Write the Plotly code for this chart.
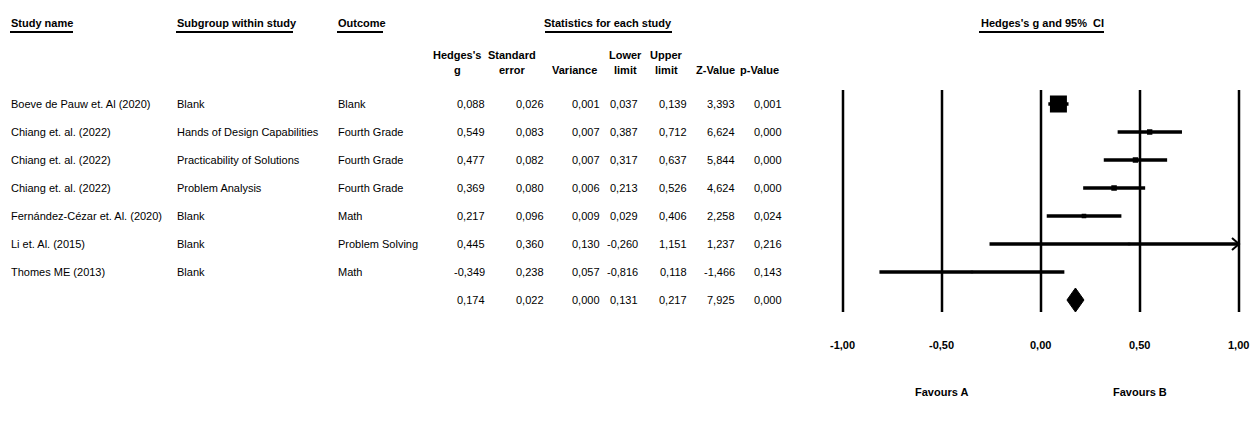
import math
import plotly.graph_objects as go

# ---------------- data ----------------
studies = ["Boeve de Pauw et. Al (2020)", "Chiang et. al. (2022)", "Chiang et. al. (2022)",
           "Chiang et. al. (2022)", "Fernández-Cézar et. Al. (2020)", "Li et. Al. (2015)",
           "Thomes ME (2013)"]
subgroups = ["Blank", "Hands of Design Capabilities", "Practicability of Solutions",
             "Problem Analysis", "Blank", "Blank", "Blank"]
outcomes = ["Blank", "Fourth Grade", "Fourth Grade", "Fourth Grade", "Math",
            "Problem Solving", "Math"]
hedges_g = [0.088, 0.549, 0.477, 0.369, 0.217, 0.445, -0.349]
std_err = [0.026, 0.083, 0.082, 0.080, 0.096, 0.360, 0.238]
variance = [0.001, 0.007, 0.007, 0.006, 0.009, 0.130, 0.057]
lower = [0.037, 0.387, 0.317, 0.213, 0.029, -0.260, -0.816]
upper = [0.139, 0.712, 0.637, 0.526, 0.406, 1.151, 0.118]
z_val = [3.393, 6.624, 5.844, 4.624, 2.258, 1.237, -1.466]
p_val = [0.001, 0.000, 0.000, 0.000, 0.024, 0.216, 0.143]

summary = {"g": 0.174, "se": 0.022, "var": 0.000, "lower": 0.131, "upper": 0.217,
           "z": 7.925, "p": 0.000}

tick_vals = [-1.0, -0.5, 0.0, 0.5, 1.0]
tick_text = ["-1,00", "-0,50", "0,00", "0,50", "1,00"]
favours = [("Favours A", -0.5), ("Favours B", 0.5)]

# ---------------- layout constants ----------------
W, H = 1258, 426
ROW0_PX, ROW_STEP = 104, 28          # pixel y of first row, row spacing
PX_PER_UNIT = 198.0                  # forest plot scale
X0_PX = 1041.0                       # pixel of g = 0
XMIN, XMAX = tick_vals[0], tick_vals[-1]

def ypx(px):
    return (px - ROW0_PX) / ROW_STEP

def xp(px):
    return px / W

FONT = "Liberation Sans, Arial, sans-serif"
FS = 11
BLACK = "#000000"

x_left_px = X0_PX - 1.08 * PX_PER_UNIT
x_right_px = X0_PX + 1.08 * PX_PER_UNIT

fig = go.Figure()

# vertical reference lines
shapes = []
for tv in tick_vals:
    shapes.append(dict(type="line", xref="x", yref="y", x0=tv, x1=tv,
                       y0=ypx(90), y1=ypx(312), line=dict(color=BLACK, width=2.5)))

# CI lines
ci_x, ci_y = [], []
n = len(studies)
for i in range(n):
    ci_x += [max(lower[i], XMIN), min(upper[i], XMAX), None]
    ci_y += [i, i, None]
fig.add_trace(go.Scatter(x=ci_x, y=ci_y, mode="lines",
                         line=dict(color=BLACK, width=3.5), hoverinfo="skip",
                         showlegend=False))

# arrows for clipped CIs
ar_x, ar_y = [], []
for i in range(n):
    if upper[i] > XMAX:
        d = 7 / PX_PER_UNIT
        dy = 6 / ROW_STEP
        ar_x += [XMAX - d, XMAX, XMAX - d, None]
        ar_y += [i - dy, i, i + dy, None]
if ar_x:
    fig.add_trace(go.Scatter(x=ar_x, y=ar_y, mode="lines",
                             line=dict(color=BLACK, width=2), hoverinfo="skip",
                             showlegend=False))

# point estimates, sized by inverse-variance weight
weights = [1 / (s * s) for s in std_err]
wmax = max(weights)
sizes = [max(2.5, 17 * math.sqrt(w / wmax)) for w in weights]
fig.add_trace(go.Scatter(x=hedges_g, y=list(range(n)), mode="markers",
                         marker=dict(symbol="square", size=sizes, color=BLACK,
                                     opacity=1, line=dict(width=0)),
                         opacity=1, showlegend=False))

# summary diamond
sr = n
dh = 12 / ROW_STEP
fig.add_trace(go.Scatter(x=[summary["lower"], summary["g"], summary["upper"], summary["g"], summary["lower"]],
                         y=[sr, sr - dh, sr, sr + dh, sr], mode="lines", fill="toself",
                         fillcolor=BLACK, line=dict(color=BLACK, width=1),
                         showlegend=False))

ann = []

def text(x_px, y_val, s, anchor="left", bold=False, size=FS):
    ann.append(dict(xref="paper", yref="y", x=xp(x_px), y=y_val,
                    text=("<b>%s</b>" % s) if bold else s, showarrow=False,
                    xanchor=anchor, yanchor="middle", borderpad=0,
                    font=dict(family=FONT, size=size, color=BLACK)))

# headers
hy = ypx(23)
text(10, hy, "Study name", bold=True)
text(176, hy, "Subgroup within study", bold=True)
text(337, hy, "Outcome", bold=True)
text(608, hy, "Statistics for each study", "center", bold=True)
text(1042, hy, "Hedges's g and 95%  CI", "center", bold=True)

underlines = [(10, 73), (176, 293), (337, 383), (545, 672), (979, 1104)]
for a, b in underlines:
    shapes.append(dict(type="line", xref="paper", yref="paper",
                       x0=xp(a), x1=xp(b), y0=1 - 32 / H, y1=1 - 32 / H,
                       line=dict(color=BLACK, width=2)))

# sub headers
num_right = [486, 545, 601, 639, 688, 736, 783]
sub_h = [("Hedges's", "g", 457), ("Standard", "error", 512), (None, "Variance", 574),
         ("Lower", "limit", 625), ("Upper", "limit", 666), (None, "Z-Value", 715),
         (None, "p-Value", 759)]
for top, bot, cx in sub_h:
    if top:
        text(cx, ypx(55), top, "center", bold=True)
    text(cx, ypx(70), bot, "center", bold=True)

def fmt(v):
    return ("%.3f" % v).replace(".", ",")

for i in range(n):
    text(10, i, studies[i])
    text(176, i, subgroups[i])
    text(337, i, outcomes[i])
    vals = [hedges_g[i], std_err[i], variance[i], lower[i], upper[i], z_val[i], p_val[i]]
    for v, xr in zip(vals, num_right):
        text(xr, i, fmt(v), "right")

svals = [summary["g"], summary["se"], summary["var"], summary["lower"], summary["upper"],
         summary["z"], summary["p"]]
for v, xr in zip(svals, num_right):
    text(xr, n, fmt(v), "right")

# tick labels
for tv, tt in zip(tick_vals, tick_text):
    ann.append(dict(xref="x", yref="y", x=tv, y=ypx(345), text="<b>%s</b>" % tt,
                    showarrow=False, xanchor="center", yanchor="middle", borderpad=0,
                    font=dict(family=FONT, size=FS, color=BLACK)))
for lab, pos in favours:
    ann.append(dict(xref="x", yref="y", x=pos, y=ypx(392), text="<b>%s</b>" % lab,
                    showarrow=False, xanchor="center", yanchor="middle", borderpad=0,
                    font=dict(family=FONT, size=FS, color=BLACK)))

fig.update_layout(
    width=W, height=H, margin=dict(l=0, r=0, t=0, b=0),
    paper_bgcolor="white", plot_bgcolor="white",
    xaxis=dict(domain=[x_left_px / W, x_right_px / W], range=[-1.08, 1.08],
               visible=False, fixedrange=True),
    yaxis=dict(domain=[0, 1], range=[ypx(H), ypx(0)], visible=False, fixedrange=True),
    shapes=shapes, annotations=ann, showlegend=False,
)

fig.write_html("out.html", config={"displayModeBar": False},
               post_script="document.body.style.margin='0px';document.body.style.overflow='hidden';")
